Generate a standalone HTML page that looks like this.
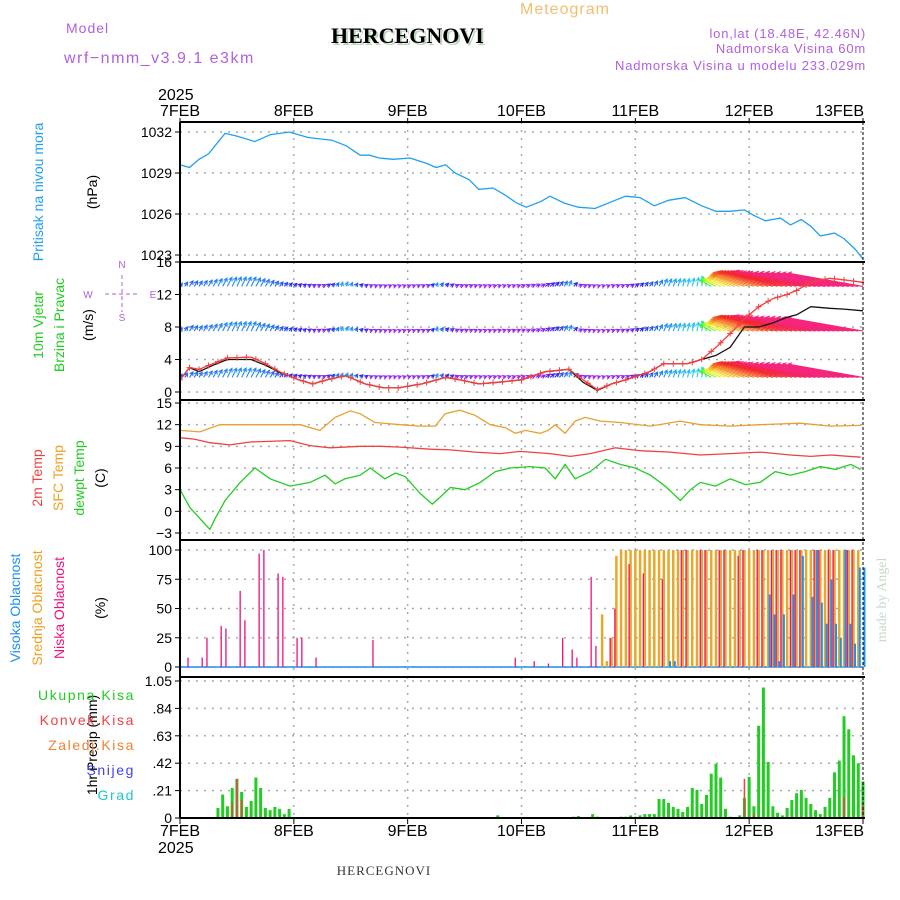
<!DOCTYPE html>
<html><head><meta charset="utf-8"><style>
body{margin:0;background:#fff;}
svg{display:block;font-family:"Liberation Sans",sans-serif;}
</style></head><body>
<svg id="c" width="900" height="900" xmlns="http://www.w3.org/2000/svg">
<defs><clipPath id="windclip"><rect x="180" y="262" width="684" height="138"/></clipPath></defs>
<text x="520" y="14" font-size="16" fill="#f0c070" letter-spacing="1">Meteogram</text>
<text x="66" y="33" font-size="14" fill="#b060e0" letter-spacing="1">Model</text>
<text x="64" y="63" font-size="16" fill="#b060e0" letter-spacing="1.5">wrf−nmm_v3.9.1 e3km</text>
<text x="333" y="45" font-size="22" font-weight="bold" font-family="Liberation Serif,serif" fill="#bcd8bc">HERCEGNOVI</text>
<text x="331" y="43" font-size="22" font-weight="bold" font-family="Liberation Serif,serif" fill="#000">HERCEGNOVI</text>
<g font-size="13" fill="#b060e0" text-anchor="end" letter-spacing="0.8">
<text x="866" y="38">lon,lat (18.48E, 42.46N)</text>
<text x="866" y="53">Nadmorska Visina 60m</text>
<text x="866" y="70">Nadmorska Visina u modelu 233.029m</text>
</g>
<g id="grid"></g>
<g id="marks"></g>
<g id="windmarks" clip-path="url(#windclip)"></g>
<g id="axes"></g>
<g font-size="14">
<text transform="translate(43,192) rotate(-90)" text-anchor="middle" fill="#1ea0f0">Pritisak na nivou mora</text>
<text transform="translate(97,192) rotate(-90)" text-anchor="middle" fill="#000">(hPa)</text>
<text transform="translate(43,325) rotate(-90)" text-anchor="middle" fill="#22cc22">10m Vjetar</text>
<text transform="translate(64,325) rotate(-90)" text-anchor="middle" fill="#22cc22">Brzina i Pravac</text>
<text transform="translate(93,325) rotate(-90)" text-anchor="middle" fill="#000">(m/s)</text>
<text transform="translate(42,478) rotate(-90)" text-anchor="middle" fill="#f04040">2m Temp</text>
<text transform="translate(63,478) rotate(-90)" text-anchor="middle" fill="#f0a020">SFC Temp</text>
<text transform="translate(84,478) rotate(-90)" text-anchor="middle" fill="#22cc22">dewpt Temp</text>
<text transform="translate(105,478) rotate(-90)" text-anchor="middle" fill="#000">(C)</text>
<text transform="translate(20,608) rotate(-90)" text-anchor="middle" fill="#1e90f0">Visoka Oblacnost</text>
<text transform="translate(42,608) rotate(-90)" text-anchor="middle" fill="#f0a020">Srednja Oblacnost</text>
<text transform="translate(64,608) rotate(-90)" text-anchor="middle" fill="#f0107a">Niska Oblacnost</text>
<text transform="translate(105,608) rotate(-90)" text-anchor="middle" fill="#000">(%)</text>
<text transform="translate(97,745) rotate(-90)" text-anchor="middle" fill="#000">1hr Precip (mm)</text>
<text x="135" y="700" text-anchor="end" fill="#22cc22" letter-spacing="1.6">Ukupna Kisa</text>
<text x="135" y="725" text-anchor="end" fill="#f04040" letter-spacing="1.6">Konvek.Kisa</text>
<text x="135" y="750" text-anchor="end" fill="#f08030" letter-spacing="1.6">Zaledj.Kisa</text>
<text x="135" y="775" text-anchor="end" fill="#4040f0" letter-spacing="1.6">Snijeg</text>
<text x="135" y="800" text-anchor="end" fill="#20c8c8" letter-spacing="1.6">Grad</text>
</g>
<g fill="#b060e0" stroke="#b060e0" font-size="10">
<text x="122" y="268" text-anchor="middle" stroke="none">N</text>
<text x="122" y="321" text-anchor="middle" stroke="none">S</text>
<text x="88" y="298" text-anchor="middle" stroke="none">W</text>
<text x="153" y="298" text-anchor="middle" stroke="none">E</text>
<line x1="105" y1="294" x2="140" y2="294" stroke-dasharray="4,3"/>
<line x1="122" y1="275" x2="122" y2="312" stroke-dasharray="4,3"/>
</g>
<text transform="translate(886,600) rotate(-90)" text-anchor="middle" font-size="14" font-family="Liberation Serif,serif" fill="#c8d8c8">made by Angel</text>
<text x="384" y="875" text-anchor="middle" font-size="13" font-family="Liberation Serif,serif" fill="#333" letter-spacing="1">HERCEGNOVI</text>
</svg>
<script>
const dayLabels=["7FEB","8FEB","9FEB","10FEB","11FEB","12FEB","13FEB"];
const presTicks=[1023,1026,1029,1032];
const windTicks=[0,4,8,12,16];
const tempTicks=[-3,0,3,6,9,12,15];
const cloudTicks=[0,25,50,75,100];
const precTicks=[0,0.21,0.42,0.63,0.84,1.05];
const presHours=[0,2,4,6,9.5,12,15.8,19,23,27,32,35,38,40,42,45,48.5,52,54,56,58,61,63,66,68.5,71,73,76,78,81,84,87.5,91,94,97,100,103,106.5,110,113,116,119,121,123.4,126.6,128.7,131,133,135,138,140,142.4,144];
const presVals=[1029.6,1029.4,1030.0,1030.4,1031.9,1031.7,1031.3,1031.8,1032.0,1031.6,1031.4,1031.0,1030.3,1030.3,1030.1,1030.0,1030.1,1029.7,1029.4,1029.6,1029.0,1028.5,1027.8,1027.9,1027.4,1026.8,1026.5,1026.9,1027.3,1026.8,1026.5,1026.4,1026.9,1027.3,1027.2,1026.6,1027.0,1027.2,1026.6,1026.2,1026.2,1026.3,1025.9,1025.5,1025.7,1025.2,1025.6,1025.1,1024.4,1024.6,1024.2,1023.4,1022.7];
const windHours=[0,2,4,7,10,15,18,21,23,25,28,31,35,39,43,46,51,56,59,63,67,72,77,82,85,88,91,94,99,102,107,110,113,116,119,122,125,128,130,133,137,140,144];
const windSpeed=[1.5,3.0,2.8,3.5,4.2,4.3,3.5,2.5,2.0,1.5,1.0,1.5,2.0,1.0,0.5,0.5,1.0,1.8,1.5,1.0,1.2,1.5,2.5,2.8,1.5,0.3,1.0,1.5,2.5,3.5,3.5,4.0,5.5,7.2,9.0,10.5,11.5,12.0,12.5,13.5,14.0,13.8,13.5];
const gustSpeed=[1.5,3.0,2.5,3.3,4.0,4.0,3.3,2.4,2.0,1.5,1.0,1.5,2.0,1.0,0.5,0.5,1.0,1.8,1.5,1.0,1.2,1.5,2.5,2.8,1.2,0.2,1.0,1.5,2.5,3.5,3.5,4.0,4.5,5.5,8.0,8.0,8.5,9.2,9.5,10.5,10.3,10.2,10.0];
const dirHours=[0,6,12,18,24,30,34,36,40,46,52,54,58,64,70,76,82,84,88,94,98,102,106,110,112,114,116,118,120,124,128,132,136,140,144];
const dirAngle=[55,60,65,60,45,25,70,65,25,20,25,65,25,20,20,25,65,25,20,25,50,65,75,80,150,155,158,160,162,164,166,168,170,170,170];
const t2Hours=[0,3,6.3,10.5,14.8,23.2,27.4,31.6,38,42.2,46.4,52.7,57,62.2,67.5,71.7,78,82.3,86.5,91.8,97,103.3,109.7,116,122.3,128.7,133,137.1,143.5];
const t2Vals=[10.2,10.0,9.5,9.2,9.6,9.8,9.1,8.8,9.0,9.0,8.9,8.6,8.5,8.2,8.0,8.3,8.0,7.6,8.0,8.8,8.4,8.2,7.8,8.0,8.2,7.8,7.6,7.8,7.5];
const sfcHours=[0,4.2,8.4,16.9,25.3,29.5,32.7,35.9,38,41.1,46.4,50.6,53.8,55.9,59,62.2,65.4,68.6,70.7,72.8,75.9,77.6,79.1,81.2,83.3,85.4,88.6,92.8,99.2,105.5,109.7,116,122.3,130.8,137.1,143.5];
const sfcVals=[11.2,11.0,12.0,12.0,12.0,11.2,13.0,13.9,13.5,12.3,12.0,11.8,11.8,13.5,14.0,13.3,12.0,11.6,10.8,11.2,10.8,11.2,12.0,10.8,12.5,13.0,12.5,12.3,11.8,12.5,12.0,11.8,12.0,12.2,11.8,11.9];
const dewHours=[0,2.1,4.2,6.3,7.4,9.5,12.7,15.8,19,23.2,27.4,30.6,32.7,34.8,38,40.1,43.2,45.4,47.5,50.6,53.2,54.9,57,60.1,63.3,66.5,69.6,73.8,77,79.1,81.2,83.3,86.5,89.7,92.8,96,99.2,102.3,105.5,107.6,109.7,112.9,116,119.2,122.3,125.5,128.7,131.8,135,138.2,141.4,143.5];
const dewVals=[3.0,0.5,-1.0,-2.5,-1.0,1.5,4.0,6.0,4.5,3.5,4.0,5.0,3.8,4.5,5.0,6.0,4.5,5.3,4.8,2.5,1.0,2.0,3.3,3.0,4.0,5.5,6.0,6.2,6.0,4.5,6.5,4.5,5.5,7.2,6.5,6.0,5.0,3.5,1.5,3.0,4.0,3.5,4.5,3.7,4.0,5.5,5.0,5.5,6.2,5.8,6.5,5.8];
const lowHours=[2,5,6,9,10,13,14,17,18,21,22,25,26,29,41,71,75,78,81,83,84,87,88,91,92,95,98,102,106,107,110,111,114,115,118,119,122,123,125,126,127,129,130,131,134,135,137,138,141,142];
const lowVals=[8,8,25,35,33,65,40,97,100,80,77,25,25,8,23,8,5,3,25,15,8,77,18,25,50,88,80,75,100,100,100,100,100,100,95,100,100,100,100,100,100,100,100,100,100,100,100,100,100,100];
const midHours=[89,90,91,92,93,94,95,96,97,98,99,100,101,102,103,104,105,106,107,108,109,110,111,112,113,114,115,116,117,118,119,120,121,122,123,124,125,126,127,128,129,130,131,132,133,134,135,136,137,138,139,140,141,142,143];
const midVals=[45,5,25,95,100,100,100,100,100,100,100,100,100,100,100,100,100,100,100,100,100,100,100,100,100,100,100,100,100,100,100,100,100,100,100,100,100,100,100,100,100,100,100,100,100,100,100,100,100,100,100,100,100,100,100];
const highHours=[103,104,124,125,126,127,129,131,133,134,135,136,137,138,139,140,141,142,143,144];
const highVals=[5,5,62,45,5,45,62,95,60,100,55,37,75,37,25,100,37,20,85,85];
const precHours=[8,9,10,11,12,13,14,15,16,17,18,19,20,21,22,23,67,83,84,87,88,93,94,95,96,97,98,99,100,101,102,103,104,105,106,107,108,109,110,111,112,113,114,115,116,118,119,120,121,122,123,124,125,126,127,128,129,130,131,132,133,134,135,136,137,138,139,140,141,142,143,144];
const precVals=[0.077,0.18,0.09,0.23,0.30,0.20,0.085,0.13,0.31,0.23,0.077,0.06,0.085,0.07,0.03,0.07,0.02,0.01,0.015,0.03,0.01,0.01,0.01,0.02,0.01,0.02,0.03,0.03,0.03,0.146,0.146,0.115,0.085,0.07,0.046,0.085,0.23,0.215,0.108,0.177,0.34,0.415,0.31,0.07,0.01,0.02,0.154,0.315,0.09,0.707,1.0,0.43,0.09,0.04,0.02,0.077,0.138,0.19,0.215,0.154,0.108,0.06,0.03,0.085,0.154,0.35,0.44,0.78,0.68,0.48,0.42,0.28];
const convHours=[11,12,13,119,121,140,144];
const convVals=[0.12,0.30,0.14,0.30,0.03,0.16,0.1];

const NS="http://www.w3.org/2000/svg";
const X0=180,X1=863;
function xH(h){return X0+h*(X1-X0)/144;}
function yP(v){return 132+(1032-v)*41/3;}
function yW(v){return 392-v*32.5/4;}
function yT(v){return 403+(15-v)*130/18;}
function yC(v){return 667-v*1.17;}
function yR(v){return 818-v*137/1.05;}
function mk(tag,attrs,parent){const e=document.createElementNS(NS,tag);for(const k in attrs)e.setAttribute(k,attrs[k]);parent.appendChild(e);return e;}
const grid=document.getElementById('grid'),marks=document.getElementById('marks'),axes=document.getElementById('axes'),wm=document.getElementById('windmarks');
const panels=[{t:122,b:262,ticks:presTicks,f:yP,fmt:v=>v},{t:262,b:400,ticks:windTicks,f:yW,fmt:v=>v},{t:400,b:540,ticks:tempTicks,f:yT,fmt:v=>v<0?"−"+(-v):v},{t:540,b:677,ticks:cloudTicks,f:yC,fmt:v=>v},{t:677,b:818,ticks:precTicks,f:yR,fmt:v=>v===0?"0":v.toFixed(2).replace(/^0/,"")}];
panels.forEach((p,i)=>{
  for(let d=1;d<6;d++){const l=mk('line',{x1:xH(d*24),x2:xH(d*24),y1:p.t,y2:p.b,stroke:'#aaa','stroke-dasharray':'2,6','stroke-width':1.5},grid);
    
    }
  p.ticks.forEach(v=>{const y=p.f(v);
    const g=mk('line',{x1:X0,x2:X1,y1:y,y2:y,stroke:'#aaa','stroke-dasharray':'2,6','stroke-width':1.5},grid);
    
    
    mk('line',{x1:X0-5,x2:X0,y1:y,y2:y,stroke:'#000'},axes);
    const t=mk('text',{x:X0-8,y:y+5,'text-anchor':'end','font-size':14,fill:'#000'},axes);
    t.textContent=p.fmt(v);
    
    });
});
mk('line',{x1:X0,x2:X0,y1:122,y2:818,stroke:'#000','stroke-width':2},axes);
mk('line',{x1:X1,x2:X1,y1:122,y2:818,stroke:'#000','stroke-width':1,'stroke-dasharray':'3,2'},axes);
[122,262,400,540,677,818].forEach(y=>mk('line',{x1:X0,x2:X1+2,y1:y,y2:y,stroke:'#000','stroke-width':2},axes));
dayLabels.forEach((s,i)=>{const x=xH(i*24);
  mk('line',{x1:x,x2:x,y1:118,y2:122,stroke:'#000'},axes);
  mk('line',{x1:x,x2:x,y1:818,y2:824,stroke:'#000'},axes);
  const anc=i===6?'end':'middle';const tx=i===6?x+1:x;
  const a=mk('text',{x:tx,y:116,'text-anchor':anc,'font-size':16,fill:'#000'},axes);a.textContent=s;
  
  
  const b=mk('text',{x:tx,y:836,'text-anchor':anc,'font-size':16,fill:'#000'},axes);b.textContent=s;
  
  });
let t1=mk('text',{x:158,y:100,'font-size':16},axes);t1.textContent="2025";
let t2=mk('text',{x:158,y:853,'font-size':16},axes);t2.textContent="2025";
function line(hs,vs,f,color,name,w,par){const d=hs.map((h,i)=>(i?'L':'M')+xH(h).toFixed(1)+','+f(vs[i]).toFixed(1)).join('');
  const p=mk('path',{d:d,fill:'none',stroke:color,'stroke-width':w||1.3},par||marks);
  
  return p;}
line(presHours,presVals,yP,'#1ea0f0','pressure-line');
function interp(hs,vs,h){if(h<=hs[0])return vs[0];for(let i=1;i<hs.length;i++){if(h<=hs[i]){const r=(h-hs[i-1])/(hs[i]-hs[i-1]);return vs[i-1]+r*(vs[i]-vs[i-1]);}}return vs[vs.length-1];}
// direction -> colour wheel knots (unwrapped hue)
const hueKnotA=[0,20,60,80,150,156,161,165,170];
const hueKnotH=[290,275,215,190,110,60,35,0,-25];
const rows=[13,7.5,1.8];
for(let h=0;h<=144;h++){
  const a=interp(dirHours,dirAngle,h),s=interp(windHours,windSpeed,h);
  const hue=(interp(hueKnotA,hueKnotH,a)+360)%360;
  const col='hsl('+hue.toFixed(0)+',90%,55%)';
  const L=3+s*s*0.4,rad=a*Math.PI/180;
  rows.forEach(r=>{const x=xH(h),y=yW(r);
    const hx=x+L*Math.cos(rad),hy=y-L*Math.sin(rad);
    const ax1=hx-4*Math.cos(rad-0.5),ay1=hy+4*Math.sin(rad-0.5);
    const ax2=hx-4*Math.cos(rad+0.5),ay2=hy+4*Math.sin(rad+0.5);
    const ar=mk('path',{d:`M${x.toFixed(1)},${y.toFixed(1)}L${hx.toFixed(1)},${hy.toFixed(1)}M${ax1.toFixed(1)},${ay1.toFixed(1)}L${hx.toFixed(1)},${hy.toFixed(1)}L${ax2.toFixed(1)},${ay2.toFixed(1)}`,stroke:col,fill:'none','stroke-width':1.1},wm);
    
    });
}
line(windHours,gustSpeed,yW,'#111','wind-gust-line',1.3,wm);
line(windHours,windSpeed,yW,'#f04040','wind-speed-line',1.3,wm);
for(let h=0;h<=144;h+=2){const x=xH(h),y=yW(interp(windHours,windSpeed,h));
  const c=mk('path',{d:`M${x-3},${y}h6M${x},${y-3}v6`,stroke:'#f04040','stroke-width':1},wm);
  
  }
line(sfcHours,sfcVals,yT,'#e8a030','sfc-temp-line');
line(t2Hours,t2Vals,yT,'#f04040','temp-2m-line');
line(dewHours,dewVals,yT,'#22cc22','dewpoint-line');
const base=mk('line',{x1:X0,x2:X1,y1:yC(0),y2:yC(0),stroke:'#1e90f0','stroke-width':1.5},marks);


function bars(hs,vs,f,color,w,off,name){hs.forEach((h,i)=>{const x=xH(h)+off,y=f(vs[i]);
  const r=mk('rect',{x:x-w/2,y:y,width:w,height:f(0)-y,fill:color},marks);
  
  });}
bars(midHours,midVals,yC,'#e8a828',2.5,0,'mid-cloud-bar');
bars(highHours,highVals,yC,'#1e90f0',2,1.5,'high-cloud-bar');
bars(lowHours,lowVals,yC,'#f0107a',1.3,-1.5,'low-cloud-bar');
bars(precHours,precVals,yR,'#22cc22',3,0,'total-precip-bar');
bars(convHours,convVals,yR,'#f04040',1.5,0,'convective-precip-bar');
</script>
</body></html>
